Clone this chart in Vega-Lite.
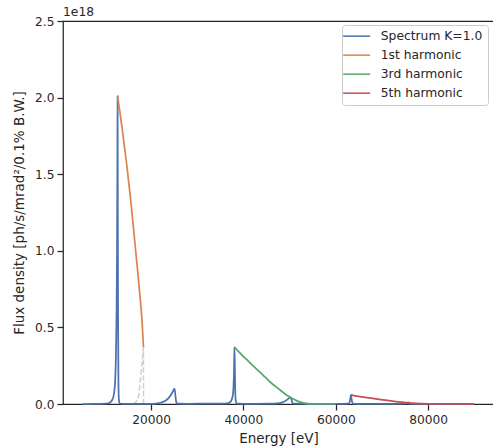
{
  "$schema": "https://vega.github.io/schema/vega-lite/v6.json",
  "width": 431,
  "height": 383,
  "autosize": {"type": "none"},
  "padding": {"left": 63, "top": 21, "right": 0, "bottom": 44},
  "title": {"text": "1e18", "anchor": "start", "frame": "group", "fontSize": 12.3, "fontWeight": "normal", "font": "DejaVu Sans", "color": "#262626", "offset": -3},
  "config": {
    "font": "DejaVu Sans",
    "view": {"stroke": "#262626", "strokeWidth": 1.25},
    "axis": {"domain": false, "grid": false, "tickColor": "#262626", "tickSize": 6, "tickWidth": 1.25, "labelFont": "DejaVu Sans", "labelFontSize": 12.2, "labelColor": "#262626", "labelPadding": 3, "titleFont": "DejaVu Sans", "titleFontSize": 13.5, "titleFontWeight": "normal", "titleColor": "#262626"}
  },
  "datasets": {
    "dashed": [
      {"E": 16100, "F": 0.0},
      {"E": 16880, "F": 0.02},
      {"E": 17300, "F": 0.06},
      {"E": 17600, "F": 0.14},
      {"E": 17900, "F": 0.23},
      {"E": 18150, "F": 0.31},
      {"E": 18330, "F": 0.37},
      {"E": 18345, "F": 0.0}
    ],
    "lines": [
      {"series": "Spectrum K=1.0", "E": 5140, "F": 0},
      {"series": "Spectrum K=1.0", "E": 8000, "F": 0.0005},
      {"series": "Spectrum K=1.0", "E": 10000, "F": 0.002},
      {"series": "Spectrum K=1.0", "E": 10700, "F": 0.005},
      {"series": "Spectrum K=1.0", "E": 11200, "F": 0.012},
      {"series": "Spectrum K=1.0", "E": 11600, "F": 0.03},
      {"series": "Spectrum K=1.0", "E": 11900, "F": 0.06},
      {"series": "Spectrum K=1.0", "E": 12150, "F": 0.13},
      {"series": "Spectrum K=1.0", "E": 12350, "F": 0.3},
      {"series": "Spectrum K=1.0", "E": 12500, "F": 0.6},
      {"series": "Spectrum K=1.0", "E": 12600, "F": 1.0},
      {"series": "Spectrum K=1.0", "E": 12680, "F": 1.6},
      {"series": "Spectrum K=1.0", "E": 12720, "F": 2.01},
      {"series": "Spectrum K=1.0", "E": 12760, "F": 1.4},
      {"series": "Spectrum K=1.0", "E": 12820, "F": 0.6},
      {"series": "Spectrum K=1.0", "E": 12900, "F": 0.15},
      {"series": "Spectrum K=1.0", "E": 13000, "F": 0.03},
      {"series": "Spectrum K=1.0", "E": 13150, "F": 0.005},
      {"series": "Spectrum K=1.0", "E": 14000, "F": 0.001},
      {"series": "Spectrum K=1.0", "E": 18000, "F": 0.001},
      {"series": "Spectrum K=1.0", "E": 20000, "F": 0.001},
      {"series": "Spectrum K=1.0", "E": 21000, "F": 0.003},
      {"series": "Spectrum K=1.0", "E": 22000, "F": 0.008},
      {"series": "Spectrum K=1.0", "E": 23000, "F": 0.02},
      {"series": "Spectrum K=1.0", "E": 23800, "F": 0.04},
      {"series": "Spectrum K=1.0", "E": 24400, "F": 0.065},
      {"series": "Spectrum K=1.0", "E": 24800, "F": 0.088},
      {"series": "Spectrum K=1.0", "E": 25000, "F": 0.1},
      {"series": "Spectrum K=1.0", "E": 25150, "F": 0.085},
      {"series": "Spectrum K=1.0", "E": 25300, "F": 0.04},
      {"series": "Spectrum K=1.0", "E": 25450, "F": 0.01},
      {"series": "Spectrum K=1.0", "E": 25700, "F": 0.002},
      {"series": "Spectrum K=1.0", "E": 28000, "F": 0.001},
      {"series": "Spectrum K=1.0", "E": 31000, "F": 0.002},
      {"series": "Spectrum K=1.0", "E": 33000, "F": 0.003},
      {"series": "Spectrum K=1.0", "E": 35000, "F": 0.002},
      {"series": "Spectrum K=1.0", "E": 36500, "F": 0.004},
      {"series": "Spectrum K=1.0", "E": 37000, "F": 0.01},
      {"series": "Spectrum K=1.0", "E": 37400, "F": 0.025},
      {"series": "Spectrum K=1.0", "E": 37700, "F": 0.06},
      {"series": "Spectrum K=1.0", "E": 37850, "F": 0.12},
      {"series": "Spectrum K=1.0", "E": 37950, "F": 0.22},
      {"series": "Spectrum K=1.0", "E": 38040, "F": 0.371},
      {"series": "Spectrum K=1.0", "E": 38120, "F": 0.25},
      {"series": "Spectrum K=1.0", "E": 38220, "F": 0.08},
      {"series": "Spectrum K=1.0", "E": 38350, "F": 0.015},
      {"series": "Spectrum K=1.0", "E": 38600, "F": 0.003},
      {"series": "Spectrum K=1.0", "E": 42000, "F": 0.001},
      {"series": "Spectrum K=1.0", "E": 46000, "F": 0.002},
      {"series": "Spectrum K=1.0", "E": 47300, "F": 0.004},
      {"series": "Spectrum K=1.0", "E": 48400, "F": 0.011},
      {"series": "Spectrum K=1.0", "E": 49200, "F": 0.022},
      {"series": "Spectrum K=1.0", "E": 49750, "F": 0.035},
      {"series": "Spectrum K=1.0", "E": 50150, "F": 0.044},
      {"series": "Spectrum K=1.0", "E": 50350, "F": 0.035},
      {"series": "Spectrum K=1.0", "E": 50550, "F": 0.012},
      {"series": "Spectrum K=1.0", "E": 50800, "F": 0.002},
      {"series": "Spectrum K=1.0", "E": 55000, "F": 0.001},
      {"series": "Spectrum K=1.0", "E": 60000, "F": 0.001},
      {"series": "Spectrum K=1.0", "E": 62700, "F": 0.003},
      {"series": "Spectrum K=1.0", "E": 63000, "F": 0.012},
      {"series": "Spectrum K=1.0", "E": 63150, "F": 0.035},
      {"series": "Spectrum K=1.0", "E": 63280, "F": 0.06},
      {"series": "Spectrum K=1.0", "E": 63420, "F": 0.035},
      {"series": "Spectrum K=1.0", "E": 63600, "F": 0.008},
      {"series": "Spectrum K=1.0", "E": 64000, "F": 0.001},
      {"series": "Spectrum K=1.0", "E": 70000, "F": 0.001},
      {"series": "Spectrum K=1.0", "E": 74800, "F": 0.002},
      {"series": "Spectrum K=1.0", "E": 75400, "F": 0.006},
      {"series": "Spectrum K=1.0", "E": 75700, "F": 0.01},
      {"series": "Spectrum K=1.0", "E": 75900, "F": 0.004},
      {"series": "Spectrum K=1.0", "E": 76300, "F": 0.001},
      {"series": "Spectrum K=1.0", "E": 90000, "F": 0.0005},
      {"series": "1st harmonic", "E": 12720, "F": 2.01},
      {"series": "1st harmonic", "E": 13200, "F": 1.91},
      {"series": "1st harmonic", "E": 13700, "F": 1.8},
      {"series": "1st harmonic", "E": 14200, "F": 1.68},
      {"series": "1st harmonic", "E": 14710, "F": 1.56},
      {"series": "1st harmonic", "E": 15200, "F": 1.43},
      {"series": "1st harmonic", "E": 15700, "F": 1.29},
      {"series": "1st harmonic", "E": 16160, "F": 1.15},
      {"series": "1st harmonic", "E": 16600, "F": 1.01},
      {"series": "1st harmonic", "E": 17100, "F": 0.86},
      {"series": "1st harmonic", "E": 17610, "F": 0.69},
      {"series": "1st harmonic", "E": 18000, "F": 0.55},
      {"series": "1st harmonic", "E": 18330, "F": 0.37},
      {"series": "3rd harmonic", "E": 38040, "F": 0.371},
      {"series": "3rd harmonic", "E": 39000, "F": 0.34},
      {"series": "3rd harmonic", "E": 40000, "F": 0.31},
      {"series": "3rd harmonic", "E": 41000, "F": 0.282},
      {"series": "3rd harmonic", "E": 42220, "F": 0.245},
      {"series": "3rd harmonic", "E": 43500, "F": 0.21},
      {"series": "3rd harmonic", "E": 44700, "F": 0.175},
      {"series": "3rd harmonic", "E": 45850, "F": 0.142},
      {"series": "3rd harmonic", "E": 47000, "F": 0.113},
      {"series": "3rd harmonic", "E": 48200, "F": 0.085},
      {"series": "3rd harmonic", "E": 49480, "F": 0.056},
      {"series": "3rd harmonic", "E": 50500, "F": 0.037},
      {"series": "3rd harmonic", "E": 51500, "F": 0.022},
      {"series": "3rd harmonic", "E": 52500, "F": 0.011},
      {"series": "3rd harmonic", "E": 53800, "F": 0.003},
      {"series": "3rd harmonic", "E": 55000, "F": 0.001},
      {"series": "3rd harmonic", "E": 60000, "F": 0.0003},
      {"series": "5th harmonic", "E": 63280, "F": 0.06},
      {"series": "5th harmonic", "E": 64500, "F": 0.052},
      {"series": "5th harmonic", "E": 66000, "F": 0.045},
      {"series": "5th harmonic", "E": 67600, "F": 0.038},
      {"series": "5th harmonic", "E": 69500, "F": 0.03},
      {"series": "5th harmonic", "E": 71200, "F": 0.023},
      {"series": "5th harmonic", "E": 73000, "F": 0.016},
      {"series": "5th harmonic", "E": 74800, "F": 0.01},
      {"series": "5th harmonic", "E": 76500, "F": 0.005},
      {"series": "5th harmonic", "E": 78500, "F": 0.002},
      {"series": "5th harmonic", "E": 82000, "F": 0.0005},
      {"series": "5th harmonic", "E": 90000, "F": 0.0}
    ]
  },
  "encoding": {
    "x": {"field": "E", "type": "quantitative", "scale": {"domain": [890, 94290], "nice": false, "zero": false}, "axis": {"title": "Energy [eV]", "values": [20000, 40000, 60000, 80000], "format": "d", "titlePadding": 6}},
    "y": {"field": "F", "type": "quantitative", "scale": {"domain": [0, 2.5], "nice": false}, "axis": {"title": "Flux density [ph/s/mrad²/0.1% B.W.]", "values": [0, 0.5, 1, 1.5, 2, 2.5], "format": ".1f", "titlePadding": 8}}
  },
  "layer": [
    {
      "data": {"name": "dashed"},
      "mark": {"type": "line", "color": "#cfcfcf", "strokeWidth": 1.5, "strokeDash": [5.5, 2.4], "interpolate": "monotone"}
    },
    {
      "data": {"name": "lines"},
      "mark": {"type": "line", "strokeWidth": 1.75, "interpolate": "monotone"},
      "encoding": {
        "color": {
          "field": "series", "type": "nominal",
          "scale": {"domain": ["Spectrum K=1.0", "1st harmonic", "3rd harmonic", "5th harmonic"], "range": ["#4c72b0", "#dd8452", "#55a868", "#c44e52"]},
          "legend": {"title": null, "orient": "none", "legendX": 279, "legendY": 4, "direction": "vertical", "strokeColor": "#cccccc", "fillColor": "white", "cornerRadius": 3, "padding": 5, "symbolType": "M-2.7,0H2.7", "symbolSize": 100, "symbolStrokeWidth": 1.5, "symbolOffset": 3.5, "labelOffset": 18, "labelFontSize": 12.3, "labelFont": "DejaVu Sans", "labelColor": "#262626", "rowPadding": 6}
        }
      }
    }
  ]
}
